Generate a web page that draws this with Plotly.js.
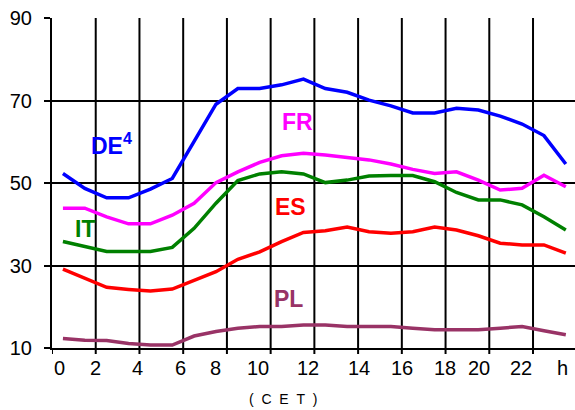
<!DOCTYPE html>
<html>
<head>
<meta charset="utf-8">
<script src="https://cdn.plot.ly/plotly-3.0.1.min.js"></script>
<style>
html,body{margin:0;padding:0;background:#fff;}
#chart{width:575px;height:410px;}
</style>
</head>
<body>
<div id="chart"></div>
<script>
// Hours (midpoints of each hourly interval)
var hours = [0.5,1.5,2.5,3.5,4.5,5.5,6.5,7.5,8.5,9.5,10.5,11.5,12.5,13.5,14.5,15.5,16.5,17.5,18.5,19.5,20.5,21.5,22.5,23.5];

var deValues = [52.3,48.7,46.4,46.4,48.5,51.1,60.1,69.1,72.9,72.9,73.8,75.2,72.9,72.0,70.1,68.7,67.0,67.0,68.1,67.7,66.2,64.3,61.5,54.6];
var frValues = [43.9,43.9,41.8,40.1,40.1,42.2,45.1,50.1,52.7,55.0,56.6,57.2,56.8,56.1,55.6,54.6,53.3,52.3,52.7,50.7,48.3,48.7,51.9,49.1];
var itValues = [35.8,34.6,33.4,33.4,33.4,34.4,39.0,45.1,50.6,52.2,52.7,52.2,50.1,50.7,51.7,51.8,51.8,50.3,47.7,45.9,45.9,44.7,41.8,38.6];
var esValues = [29.1,26.9,24.7,24.2,23.8,24.3,26.5,28.5,31.5,33.3,35.8,38.0,38.4,39.3,38.2,37.8,38.2,39.3,38.6,37.2,35.4,35.0,35.0,33.0];
var plValues = [12.3,11.9,11.8,11.1,10.7,10.7,12.9,14.0,14.8,15.2,15.2,15.6,15.6,15.2,15.2,15.2,14.8,14.4,14.4,14.4,14.8,15.2,14.2,13.2];

var seriesNames = ['DE<sup>4</sup>','FR','IT','ES','PL'];
var xTickLabels = ['0','2','4','6','8','10','12','14','16','18','20','22','h'];
var yTickLabels = ['10','30','50','70','90'];

var colors = ['#0000FF','#FF00FF','#008000','#FF0000','#993366'];
var allValues = [deValues, frValues, itValues, esValues, plValues];

var traces = allValues.map(function(v,i){
  return {x: hours, y: v, type:'scatter', mode:'lines', name: seriesNames[i],
          line:{color: colors[i], width:3.5}, hoverinfo:'skip', showlegend:false};
});

var labelPos = [0.33,2.01,3.90,5.86,7.48,9.44,11.71,14.05,15.99,17.98,19.53,21.44,23.36];
var labelAnn = [
  {x:2.74, y:59.45},
  {x:11.21, y:64.8},
  {x:1.51, y:38.85},
  {x:10.91, y:44.2},
  {x:10.82, y:21.9}
];
var annotations = labelAnn.map(function(p,i){
  return {x:p.x, y:p.y, xref:'x', yref:'y', text:'<b>'+seriesNames[i]+'</b>', showarrow:false,
          font:{family:'Liberation Sans, Arial, sans-serif', size:23, color:colors[i]},
          xanchor:'center', yanchor:'middle'};
});
// x tick labels (placed as in the reference)
xTickLabels.forEach(function(t,i){
  annotations.push({x:labelPos[i], y:-0.06, xref:'x', yref:'paper', text:t, showarrow:false,
    font:{family:'Liberation Sans, Arial, sans-serif', size:20, color:'#000'}, xanchor:'center', yanchor:'middle'});
});
var nb = '\u00a0\u00a0';
annotations.push({x:0.4417, y:-0.1545, xref:'paper', yref:'paper', text:'('+nb+'C'+nb+'E'+nb+'T'+nb+')', showarrow:false,
  font:{family:'Liberation Sans, Arial, sans-serif', size:14, color:'#000'}, xanchor:'center', yanchor:'middle'});

// vertical grid lines and tick marks every 2 hours, on the x scale
var shapes = [];
for (var g=0; g<=22; g+=2) {
  if (g > 0) {
    shapes.push({type:'line', xref:'x', yref:'paper', x0:g, x1:g, y0:0, y1:1,
                 line:{color:'#000', width:2}, layer:'below'});
  }
  shapes.push({type:'line', xref:'x', yref:'paper', ysizemode:'pixel', yanchor:0, x0:g, x1:g, y0:0, y1:-6,
               line:{color:'#000', width:2}, layer:'above'});
}

var layout = {
  width:575, height:410,
  margin:{l:52, r:0, t:18, b:62, pad:0},
  paper_bgcolor:'#fff', plot_bgcolor:'#fff',
  font:{family:'Liberation Sans, Arial, sans-serif', size:20, color:'#000'},
  xaxis:{range:[0,23.92], showticklabels:false, ticks:'', showgrid:false, zeroline:false,
         showline:true, linecolor:'#000', linewidth:2, fixedrange:true},
  yaxis:{range:[10,90], tickmode:'array', tickvals:yTickLabels.map(Number), ticktext:yTickLabels,
         showgrid:true, gridcolor:'#000', gridwidth:2, zeroline:false,
         showline:true, linecolor:'#000', linewidth:2, ticks:'outside', ticklen:6, tickwidth:2, tickcolor:'#000',
         ticklabelstandoff:8, tickfont:{size:20, color:'#000'}, fixedrange:true, layer:'below traces'},
  shapes: shapes,
  annotations: annotations,
  showlegend:false
};

Plotly.newPlot('chart', traces, layout, {displayModeBar:false, staticPlot:true});
</script>
</body>
</html>
